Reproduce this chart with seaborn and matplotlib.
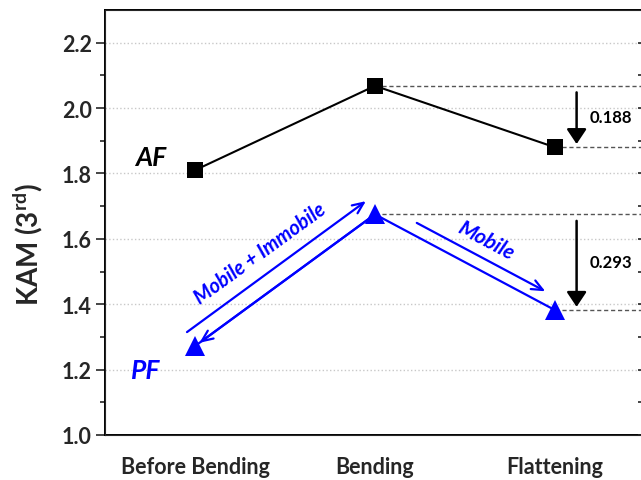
import matplotlib
matplotlib.use('Agg')
import matplotlib.pyplot as plt
import matplotlib.transforms as mtransforms
import numpy as np
import seaborn as sns

stages = ['Before Bending', 'Bending', 'Flattening']
af_kam = [1.81, 2.068, 1.880]
pf_kam = [1.272, 1.675, 1.382]
drop_labels = ['0.188', '0.293']

sns.set_style('ticks')
plt.rcParams['font.family'] = ['Lato', 'DejaVu Sans']
plt.rcParams['font.weight'] = 'bold'
plt.rcParams['mathtext.fontset'] = 'custom'
plt.rcParams['mathtext.rm'] = 'Lato:bold'
plt.rcParams['mathtext.bf'] = 'Lato:bold'

fig = plt.figure(figsize=(6.41, 4.81), dpi=100)
ax = fig.add_axes([105 / 641, 45 / 481, 540 / 641, 425 / 481])

ax.yaxis.grid(True, linestyle=':', color='#c8c8c8', linewidth=1)

x = np.arange(len(stages))

# reference dashed levels to the right
ax.hlines([af_kam[1], af_kam[2], pf_kam[1], pf_kam[2]],
          xmin=[x[1], x[2], x[1], x[2]], xmax=2.6,
          linestyles=(0, (3, 2)), colors='#555555', linewidth=1, zorder=1)

sns.lineplot(x=x, y=af_kam, ax=ax, color='black', marker='s', markersize=11,
             markeredgewidth=0, linewidth=1.5, sort=False, zorder=3)
sns.lineplot(x=x, y=pf_kam, ax=ax, color='blue', marker='^', markersize=14,
             markeredgewidth=0, linewidth=1.6, sort=False, zorder=3)

# arrowhead on the PF line pointing back to Before Bending
ax.annotate('', xy=(x[0], pf_kam[0]), xytext=(x[1], pf_kam[1]),
            arrowprops=dict(arrowstyle='->,head_length=0.8,head_width=0.35',
                            color='blue', lw=1.6, shrinkA=0, shrinkB=4), zorder=2)

# parallel arrows above PF segments
up = mtransforms.offset_copy(ax.transData, fig=fig, x=-8, y=14, units='dots')
ax.annotate('', xy=(x[1], pf_kam[1]), xytext=(x[0], pf_kam[0]),
            xycoords=up, textcoords=up,
            arrowprops=dict(arrowstyle='->,head_length=0.8,head_width=0.35',
                            color='blue', lw=1.6, shrinkA=0, shrinkB=1))
right = mtransforms.offset_copy(ax.transData, fig=fig, x=5, y=11, units='dots')
ax.annotate('', xy=(x[2], pf_kam[2]), xytext=(x[1], pf_kam[1]),
            xycoords=right, textcoords=right,
            arrowprops=dict(arrowstyle='->,head_length=0.8,head_width=0.35',
                            color='blue', lw=1.6, shrinkA=30, shrinkB=12))

ax.annotate('Mobile + Immobile', xy=((x[0] + x[1]) / 2, (pf_kam[0] + pf_kam[1]) / 2),
            xytext=(-25, 27), textcoords='offset pixels', ha='center', va='center',
            rotation=36, color='blue', fontsize=14.5, fontweight='bold', style='italic')
ax.annotate('Mobile', xy=((x[1] + x[2]) / 2, (pf_kam[1] + pf_kam[2]) / 2),
            xytext=(21, 22), textcoords='offset pixels', ha='center', va='center',
            rotation=-28, color='blue', fontsize=15, fontweight='bold', style='italic')

ax.annotate('AF', xy=(x[0], af_kam[0]), xytext=(-44, 13), textcoords='offset pixels',
            ha='center', va='center', fontsize=19, fontweight='bold', style='italic',
            color='black')
ax.annotate('PF', xy=(x[0], pf_kam[0]), xytext=(-49, -24), textcoords='offset pixels',
            ha='center', va='center', fontsize=19, fontweight='bold', style='italic',
            color='blue')

# drop arrows with values
arrow_x = 2.12
for top, bottom, label in [(af_kam[1], af_kam[2], drop_labels[0]),
                           (pf_kam[1], pf_kam[2], drop_labels[1])]:
    ax.annotate('', xy=(arrow_x, bottom + 0.01), xytext=(arrow_x, top - 0.02),
                arrowprops=dict(arrowstyle='-|>,head_length=0.9,head_width=0.6',
                                color='black', lw=1.8, shrinkA=0, shrinkB=0))
    ax.text(arrow_x + 0.07, (top + bottom) / 2, label, ha='left', va='center',
            fontsize=12, fontweight='bold', color='black')

ax.set_xlim(-0.5, 2.5)
ax.set_ylim(1.0, 2.3)
ax.set_xticks(x)
ax.set_xticklabels(stages)
ax.set_yticks([1.0, 1.2, 1.4, 1.6, 1.8, 2.0, 2.2])
ax.set_yticks(np.arange(1.1, 2.3, 0.2), minor=True)

ax.tick_params(axis='x', length=0, pad=15, labelsize=15.5)
ax.tick_params(axis='y', which='major', direction='out', length=6.5, width=1.2,
               labelsize=15.5, pad=3)
ax.tick_params(axis='y', which='minor', direction='out', length=3.5, width=1.2)

for s in ax.spines.values():
    s.set_linewidth(1.4)
    s.set_color('black')

ax.set_ylabel('KAM (3$^{\\mathbf{rd}}$)', fontsize=20, fontweight='bold')
ax.yaxis.set_label_coords(-0.112, 0.45)

# inward ticks on the right side
ax2 = ax.twinx()
ax2.set_ylim(1.0, 2.3)
ax2.set_yticks([1.0, 1.2, 1.4, 1.6, 1.8, 2.0, 2.2])
ax2.set_yticks(np.arange(1.1, 2.3, 0.2), minor=True)
ax2.tick_params(axis='y', which='both', direction='in', length=5, width=1.2,
                labelright=False)

fig.savefig('out.png', dpi=100)
